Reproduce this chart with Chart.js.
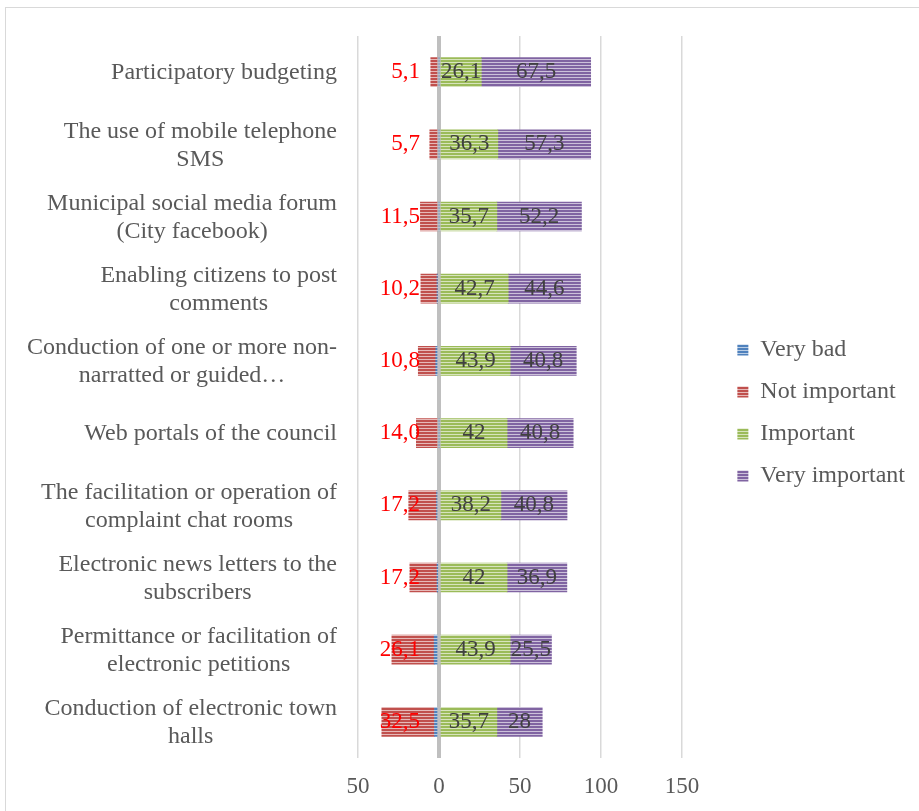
<!DOCTYPE html>
<html>
<head>
<meta charset="utf-8">
<script src="https://cdn.jsdelivr.net/npm/chart.js@4.4.1/dist/chart.umd.min.js"></script>
<style>
    html, body {margin: 0; padding: 0; background: #fff;}
    #wrap {position: relative; width: 919px; height: 811px; overflow: hidden;}
    #frame {position: absolute; left: 5px; top: 7px; width: 940px; height: 840px; border: 1px solid #d9d9d9;}
    canvas {position: absolute; left: 0; top: 0;}
</style>
</head>
<body>
<div id="wrap">
    <div id="frame"></div>
    <canvas id="myChart" width="919" height="811"></canvas>
</div>
<script>
const categories = [
    ['Participatory budgeting'],
    ['The use of mobile telephone', 'SMS'],
    ['Municipal social media forum', '(City facebook)'],
    ['Enabling citizens to post', 'comments'],
    ['Conduction of one or more non-', 'narratted or guided\u2026'],
    ['Web portals of the council'],
    ['The facilitation or operation of', 'complaint chat rooms'],
    ['Electronic news letters to the', 'subscribers'],
    ['Permittance or facilitation of', 'electronic petitions'],
    ['Conduction of electronic town', 'halls']
];
const seriesNames = ['Very bad', 'Not important', 'Important', 'Very important'];
const veryBad = [0, 0, 0, 1, 2, 0, 1.5, 0.8, 3, 2.8];
const notImportant = [5.1, 5.7, 11.5, 10.2, 10.8, 14.0, 17.2, 17.2, 26.1, 32.5];
const important = [26.1, 36.3, 35.7, 42.7, 43.9, 42, 38.2, 42, 43.9, 35.7];
const veryImportant = [67.5, 57.3, 52.2, 44.6, 40.8, 40.8, 40.8, 36.9, 25.5, 28];
const notImportantText = ['5,1', '5,7', '11,5', '10,2', '10,8', '14,0', '17,2', '17,2', '26,1', '32,5'];
const importantText = ['26,1', '36,3', '35,7', '42,7', '43,9', '42', '38,2', '42', '43,9', '35,7'];
const veryImportantText = ['67,5', '57,3', '52,2', '44,6', '40,8', '40,8', '40,8', '36,9', '25,5', '28'];
const xTicks = [-50, 0, 50, 100, 150];

const SERIF = '"Liberation Serif", "Times New Roman", serif';
const ctx = document.getElementById('myChart').getContext('2d');

// horizontal stripes like the office "light horizontal" fill
function stripe(base, light) {
    const c = document.createElement('canvas');
    c.width = 4;
    c.height = 3;
    const g = c.getContext('2d');
    g.fillStyle = base;
    g.fillRect(0, 0, 4, 3);
    g.fillStyle = light;
    g.fillRect(0, 2, 4, 1);
    return ctx.createPattern(c, 'repeat');
}

const fills = [
    stripe('#4f81bd', '#b9cde5'),
    stripe('#c0504d', '#e6b9b8'),
    stripe('#9bbb59', '#d7e4bd'),
    stripe('#8064a2', '#ccc1da')
];

const valueLabels = {
    id: 'valueLabels',
    afterDatasetsDraw(chart) {
        const c = chart.ctx;
        const zero = chart.scales.x.getPixelForValue(0);
        c.save();
        c.font = '23px ' + SERIF;
        c.textBaseline = 'middle';

        c.fillStyle = '#ff0000';
        c.textAlign = 'right';
        chart.getDatasetMeta(1).data.forEach((bar, i) => {
            c.fillText(notImportantText[i], zero - 19, bar.y);
        });

        c.fillStyle = '#404040';
        c.textAlign = 'center';
        chart.getDatasetMeta(2).data.forEach((bar, i) => {
            c.fillText(importantText[i], (bar.x + bar.base) / 2, bar.y);
        });
        chart.getDatasetMeta(3).data.forEach((bar, i) => {
            c.fillText(veryImportantText[i], (bar.x + bar.base) / 2, bar.y);
        });
        c.restore();
    }
};

// category names: block right aligned, lines centred inside the block
const categoryLabels = {
    id: 'categoryLabels',
    afterDraw(chart) {
        const c = chart.ctx;
        const y = chart.scales.y;
        const lineH = 28;
        c.save();
        c.font = '24px ' + SERIF;
        c.fillStyle = '#595959';
        c.textAlign = 'center';
        c.textBaseline = 'middle';
        categories.forEach((lines, i) => {
            const w = Math.max(...lines.map(l => c.measureText(l).width));
            const cx = 337 - w / 2;
            const cy = y.getPixelForValue(i) + 1;
            lines.forEach((l, k) => {
                c.fillText(l, cx, cy + (k - (lines.length - 1) / 2) * lineH);
            });
        });
        c.restore();
    }
};

new Chart(ctx, {
    type: 'bar',
    data: {
        labels: categories.map(l => l.join(' ')),
        datasets: [
            {label: seriesNames[0], data: veryBad.map(v => -v), backgroundColor: fills[0]},
            {label: seriesNames[1], data: notImportant.map(v => -v), backgroundColor: fills[1]},
            {label: seriesNames[2], data: important, backgroundColor: fills[2]},
            {label: seriesNames[3], data: veryImportant, backgroundColor: fills[3]}
        ]
    },
    options: {
        indexAxis: 'y',
        responsive: false,
        animation: false,
        barThickness: 29,
        borderWidth: 0,
        layout: {padding: {top: 36, right: 4, bottom: 0, left: 0}},
        scales: {
            x: {
                stacked: true,
                min: -50,
                max: 173,
                afterBuildTicks: axis => {
                    axis.ticks = xTicks.map(v => ({value: v}));
                },
                afterFit: scale => {
                    scale.height = 53;
                },
                border: {display: false},
                grid: {
                    drawTicks: false,
                    color: c => c.tick && c.tick.value === 0 ? '#bfbfbf' : '#d9d9d9',
                    lineWidth: c => c.tick && c.tick.value === 0 ? 4 : 1.5
                },
                ticks: {
                    padding: 15,
                    color: '#595959',
                    font: {family: SERIF, size: 23},
                    callback: v => Math.abs(v)
                }
            },
            y: {
                stacked: true,
                afterFit: scale => {
                    scale.width = 358;
                },
                border: {display: false},
                grid: {display: false},
                ticks: {color: 'rgba(0,0,0,0)'}
            }
        },
        plugins: {
            tooltip: {enabled: false},
            legend: {
                position: 'right',
                fullSize: false,
                title: {display: true, text: ' ', font: {size: 10}, padding: 10},
                labels: {
                    boxWidth: 11,
                    boxHeight: 11,
                    padding: 18,
                    color: '#595959',
                    font: {family: SERIF, size: 24}
                }
            }
        }
    },
    plugins: [valueLabels, categoryLabels]
});
</script>
</body>
</html>
